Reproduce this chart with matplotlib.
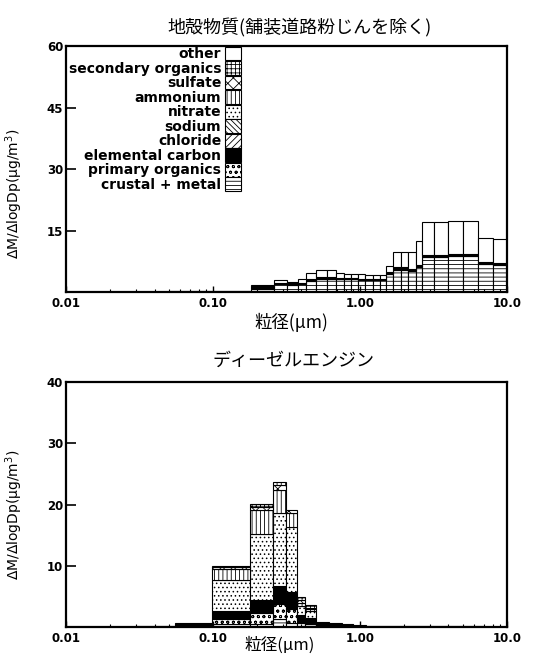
import numpy as np
import matplotlib
matplotlib.use('Agg')
import matplotlib.pyplot as plt
from matplotlib.patches import Patch
from matplotlib.ticker import LogLocator, NullFormatter

plt.rcParams['font.family'] = ['DejaVu Sans', 'Noto Sans CJK JP']
plt.rcParams['hatch.linewidth'] = 0.6

# stacking order, bottom to top
species = ['crustal + metal', 'primary organics', 'elemental carbon', 'chloride', 'sodium',
           'nitrate', 'ammonium', 'sulfate', 'secondary organics', 'other']
hatches = ['----', 'ooo', '', '/////', '\\\\\\\\\\\\', '....', '||||', 'xxx', '++++', '']
faces = ['white', 'white', 'black', 'white', 'white', 'white', 'white', 'white', 'white', 'white']

# crustal (paved road dust excluded) - bin edges in um
edges_top = [0.01, 0.05, 0.181, 0.261, 0.321, 0.376, 0.432, 0.506, 0.595, 0.684, 0.78, 0.87,
             0.97, 1.08, 1.22, 1.36, 1.51, 1.68, 1.89, 2.12, 2.39, 2.65, 3.21, 3.96, 5.0,
             6.32, 8.0, 10.0]
total_top = [0.2, 0.3, 1.9, 3.1, 2.6, 3.4, 4.8, 5.4, 5.4, 4.7, 4.6, 4.6, 4.5, 4.3, 4.3, 4.3,
             6.4, 9.9, 9.9, 9.9, 12.5, 17.2, 17.2, 17.5, 17.5, 13.2, 13.0]
crustal_top = [0.1, 0.15, 0.9, 2.0, 1.9, 2.0, 2.8, 3.3, 3.3, 3.2, 3.2, 3.2, 3.1, 3.0, 3.0, 3.0,
               4.5, 5.5, 5.5, 5.3, 6.2, 8.6, 8.6, 8.8, 8.8, 7.0, 6.8]
porg_top = [0, 0, 0.1, 0.2, 0.2, 0.2, 0.2, 0.2, 0.2, 0.1, 0.1, 0.1, 0.1, 0.1, 0.1, 0.1,
            0.2, 0.2, 0.2, 0.2, 0.3, 0.3, 0.3, 0.3, 0.3, 0.2, 0.2]
ec_top = [0.1, 0.15, 0.5, 0.2, 0.2, 0.2, 0.2, 0.2, 0.2, 0.15, 0.15, 0.15, 0.15, 0.15, 0.15, 0.15,
          0.2, 0.5, 0.5, 0.3, 0.3, 0.35, 0.35, 0.35, 0.35, 0.3, 0.3]

# diesel engine
edges_bot = [0.03, 0.055, 0.098, 0.178, 0.257, 0.316, 0.37, 0.42, 0.506, 0.62, 0.75, 0.9,
             1.1, 3.0, 7.0, 10.0]
crustal_bot = [0, 0.1, 0.5, 0.6, 1.4, 0.8, 0.3, 0.3, 0, 0, 0, 0, 0, 0, 0]
porg_bot = [0, 0, 0.8, 1.7, 2.4, 2.2, 0.5, 0.3, 0, 0, 0, 0, 0, 0, 0]
ec_bot = [0.3, 0.7, 1.4, 2.1, 3.0, 2.8, 1.2, 0.9, 0.9, 0.8, 0.6, 0.45, 0.3, 0.25, 0.15]
nitrate_bot = [0, 0, 5.0, 10.9, 11.8, 10.6, 1.5, 1.2, 0, 0, 0, 0, 0, 0, 0]
ammonium_bot = [0, 0, 1.9, 3.8, 3.8, 2.3, 0.5, 0.3, 0, 0, 0, 0, 0, 0, 0]
sulfate_bot = [0, 0, 0.2, 0.6, 0.8, 0.4, 0.4, 0.2, 0, 0, 0, 0, 0, 0, 0]
sorg_bot = [0, 0, 0.2, 0.5, 0.5, 0, 0.6, 0.4, 0, 0, 0, 0, 0, 0, 0]

xticks = [0.01, 0.1, 1, 10]
xticklabels = ['0.01', '0.10', '1.00', '10.0']


def stacked(ax, edges, layers):
    left = np.array(edges[:-1])
    width = np.diff(edges)
    bottom = np.zeros(len(left))
    for vals, h, fc in zip(layers, hatches, faces):
        vals = np.array(vals, dtype=float)
        m = vals > 0
        if m.any():
            ax.bar(left[m], vals[m], width[m], bottom=bottom[m], align='edge',
                   facecolor=fc, edgecolor='black', hatch=h, linewidth=0.8)
        bottom += vals


def style(ax, ymax, yticks):
    ax.set_xscale('log')
    ax.set_xlim(0.01, 10)
    ax.set_ylim(0, ymax)
    ax.set_xticks(xticks, labels=xticklabels, fontweight='bold', fontsize=8.5)
    ax.xaxis.set_minor_locator(LogLocator(base=10, subs=np.arange(2, 10)))
    ax.xaxis.set_minor_formatter(NullFormatter())
    ax.set_yticks(yticks, labels=[str(v) for v in yticks], fontweight='bold', fontsize=8.5)
    ax.tick_params(axis='y', which='major', direction='in', length=7, width=1.2, pad=2)
    ax.tick_params(axis='x', which='major', direction='in', length=4, width=1.0, pad=3)
    ax.tick_params(axis='x', which='minor', direction='in', length=2.5, width=0.8)
    for s in ax.spines.values():
        s.set_linewidth(1.6)


fig = plt.figure(figsize=(5.34, 6.57), dpi=100)
ax1 = fig.add_axes([0.1236, 0.5548, 0.8258, 0.375])
ax2 = fig.add_axes([0.1236, 0.0450, 0.8258, 0.3735])

other_top = np.array(total_top) - np.array(crustal_top) - np.array(porg_top) - np.array(ec_top)
zeros_top = [0] * len(total_top)
stacked(ax1, edges_top, [crustal_top, porg_top, ec_top, zeros_top, zeros_top, zeros_top,
                         zeros_top, zeros_top, zeros_top, other_top])
zeros_bot = [0] * len(ec_bot)
stacked(ax2, edges_bot, [crustal_bot, porg_bot, ec_bot, zeros_bot, zeros_bot, nitrate_bot,
                         ammonium_bot, sulfate_bot, sorg_bot, zeros_bot])

style(ax1, 60, [15, 30, 45, 60])
style(ax2, 40, [10, 20, 30, 40])

handles = [Patch(facecolor=fc, edgecolor='black', hatch=h, linewidth=0.8)
           for h, fc in zip(hatches[::-1], faces[::-1])]
ax1.legend(handles, species[::-1], loc='upper right', bbox_to_anchor=(0.397, 0.997),
           markerfirst=False, frameon=False, handlelength=1.17, handleheight=1.13,
           labelspacing=0, borderpad=0, handletextpad=0.25, borderaxespad=0,
           prop={'weight': 'bold', 'size': 10})

ax1.set_title('地殻物質(舗装道路粉じんを除く)', fontsize=13, family='Noto Sans CJK JP',
              x=0.53, pad=9)
ax2.set_title('ディーゼルエンジン', fontsize=13, family='Noto Sans CJK JP', x=0.515, pad=12)

ax1.set_xlabel('粒径(μm)', fontsize=12.5, family='Noto Sans CJK JP', labelpad=2)
ax1.xaxis.label.set_x(0.51)
ax2.set_xlabel('粒径(μm)', fontsize=12, family='Noto Sans CJK JP', labelpad=-6)
ax2.xaxis.label.set_x(0.485)

ylab = 'ΔM/ΔlogDp(μg/m$^3$)'
ax1.set_ylabel(ylab, fontsize=10)
ax1.yaxis.set_label_coords(-0.093, 0.40)
ax2.set_ylabel(ylab, fontsize=10)
ax2.yaxis.set_label_coords(-0.093, 0.46)

fig.savefig('out.png', dpi=100)
